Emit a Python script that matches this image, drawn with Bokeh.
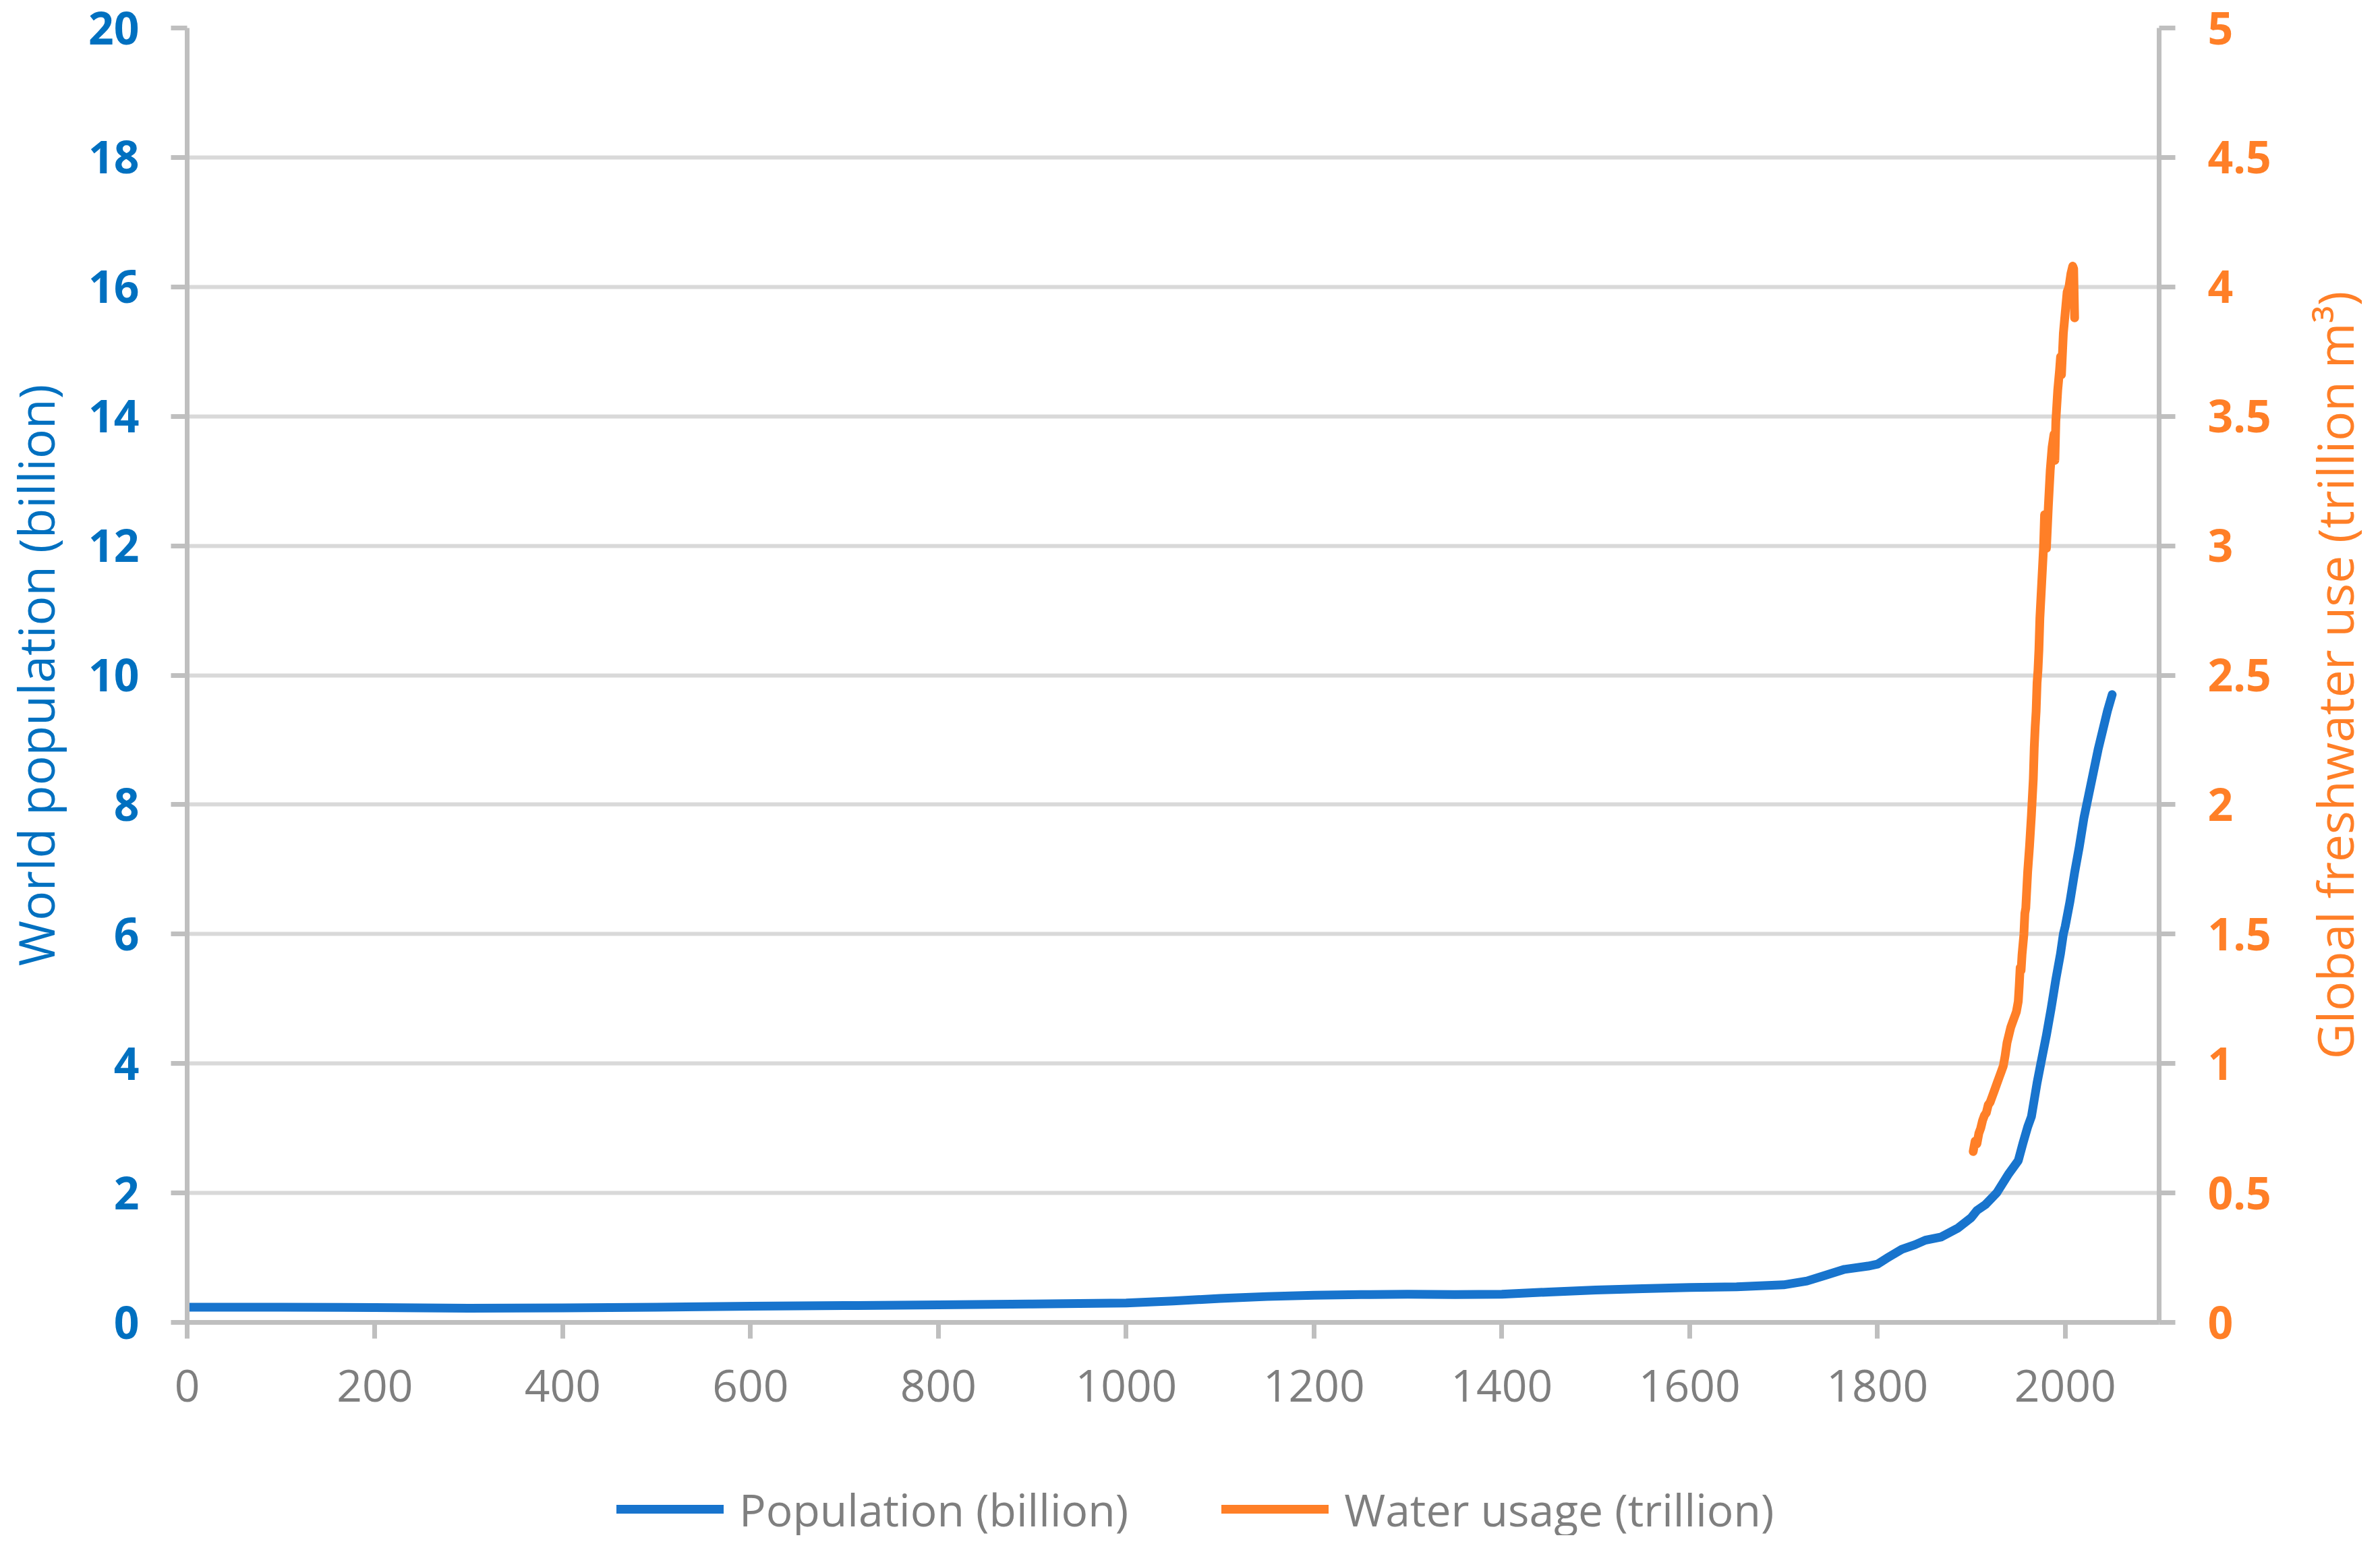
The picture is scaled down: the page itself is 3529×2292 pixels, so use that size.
import math
from bokeh.plotting import figure
from bokeh.layouts import column
from bokeh.models import (Range1d, LinearAxis, FixedTicker, CustomJSTickFormatter,
                          Legend, LegendItem, Label)
from bokeh.embed import file_html
from bokeh.resources import INLINE

# ---------------- data ----------------
pop_years = [0, 100, 200, 300, 400, 500, 600, 700, 800, 900, 1000, 1050, 1100, 1150,
             1200, 1250, 1300, 1350, 1400, 1450, 1500, 1550, 1600, 1650, 1700, 1725,
             1745, 1765, 1790, 1800, 1811, 1826, 1840, 1851, 1868, 1886, 1900, 1906,
             1915, 1927, 1940, 1950, 1955, 1960, 1964, 1970, 1974, 1980, 1985, 1990,
             1995, 1998, 2000, 2005, 2010, 2015, 2020, 2025, 2030, 2035, 2040, 2045, 2050]
pop_values = [0.235, 0.235, 0.23, 0.22, 0.225, 0.235, 0.25, 0.26, 0.27, 0.285, 0.30, 0.33,
              0.37, 0.40, 0.42, 0.43, 0.435, 0.43, 0.435, 0.47, 0.50, 0.52, 0.54, 0.55,
              0.58, 0.64, 0.73, 0.82, 0.87, 0.90, 1.00, 1.13, 1.20, 1.27, 1.32, 1.46,
              1.62, 1.73, 1.82, 2.00, 2.30, 2.50, 2.77, 3.02, 3.18, 3.70, 4.00, 4.44,
              4.85, 5.30, 5.70, 6.00, 6.12, 6.50, 6.95, 7.35, 7.80, 8.15, 8.50, 8.85,
              9.15, 9.45, 9.70]

water_years = [1902, 1904, 1906, 1908, 1910, 1912, 1914, 1916, 1918, 1920, 1922, 1924,
               1926, 1928, 1930, 1932, 1934, 1936, 1938, 1940, 1942, 1944, 1946, 1948,
               1950, 1951, 1952, 1953, 1954, 1956, 1957, 1958, 1960, 1962, 1964, 1966,
               1967, 1968, 1969, 1970, 1971, 1972, 1973, 1975, 1977, 1978, 1980, 1982,
               1984, 1986, 1988, 1989, 1990, 1992, 1994, 1995, 1996, 1998, 2000, 2002,
               2004, 2006, 2008, 2009, 2010]
water_values = [0.66, 0.70, 0.69, 0.73, 0.75, 0.78, 0.80, 0.81, 0.84, 0.85, 0.87, 0.89,
                0.91, 0.93, 0.95, 0.97, 0.99, 1.03, 1.08, 1.11, 1.14, 1.16, 1.18, 1.20,
                1.24, 1.30, 1.37, 1.36, 1.42, 1.50, 1.58, 1.60, 1.74, 1.84, 1.96, 2.10,
                2.22, 2.30, 2.36, 2.47, 2.52, 2.60, 2.72, 2.86, 3.00, 3.12, 2.99, 3.15,
                3.29, 3.38, 3.43, 3.33, 3.48, 3.60, 3.68, 3.73, 3.66, 3.82, 3.90, 3.98,
                4.00, 4.05, 4.08, 4.07, 3.88]

x_ticks = [0, 200, 400, 600, 800, 1000, 1200, 1400, 1600, 1800, 2000]
pop_ticks = [0, 2, 4, 6, 8, 10, 12, 14, 16, 18, 20]
water_ticks = [0, 0.5, 1, 1.5, 2, 2.5, 3, 3.5, 4, 4.5, 5]

series_names = ["Population (billion)", "Water usage (trillion)"]
left_title = "World population (billion)"
right_title = "Global freshwater use (trillion m³)"

# ---------------- style ----------------
FONT = "Open Sans"
BLUE_TEXT = "#0070C0"
BLUE_LINE = "#1874CD"
ORANGE = "#FF7F27"
GRAY_TEXT = "#7F7F7F"
AXIS_C = "#BFBFBF"
GRID_C = "#D9D9D9"
W = 3513
H_MAIN = 2160
H_LEG = 116

p = figure(width=W, height=H_MAIN, output_backend="svg", toolbar_location=None,
           x_range=Range1d(0, 2100), y_range=Range1d(0, 20),
           min_border_left=274, min_border_right=312, min_border_top=41,
           min_border_bottom=H_MAIN - 1960)
p.extra_y_ranges = {"water": Range1d(0, 5)}
p.outline_line_color = None
p.background_fill_color = "white"
p.border_fill_color = "white"


def style_axis(ax, ticks, color, bold, standoff):
    ax.ticker = FixedTicker(ticks=ticks)
    ax.axis_line_color = AXIS_C
    ax.axis_line_width = 7
    ax.major_tick_line_color = AXIS_C
    ax.major_tick_line_width = 7
    ax.major_tick_out = 24
    ax.major_tick_in = 0
    ax.minor_tick_line_color = None
    ax.major_label_text_font = FONT
    ax.major_label_text_font_size = "66px"
    ax.major_label_text_color = color
    ax.major_label_text_font_style = "bold" if bold else "normal"
    ax.major_label_standoff = standoff


style_axis(p.xaxis[0], x_ticks, GRAY_TEXT, False, 46)
style_axis(p.yaxis[0], pop_ticks, BLUE_TEXT, True, 47)
p.yaxis[0].axis_label = left_title
p.yaxis[0].axis_label_text_font = FONT
p.yaxis[0].axis_label_text_font_size = "73px"
p.yaxis[0].axis_label_text_font_style = "normal"
p.yaxis[0].axis_label_text_color = BLUE_TEXT
p.yaxis[0].axis_label_standoff = 26

right_axis = LinearAxis(y_range_name="water",
                        formatter=CustomJSTickFormatter(code="return tick.toString();"))
style_axis(right_axis, water_ticks, ORANGE, True, 48)
p.add_layout(right_axis, "right")

# right-hand title, reading bottom to top like the reference
p.add_layout(Label(x=2287, y=10, text=right_title, angle=math.pi / 2,
                   text_align="center", text_baseline="alphabetic",
                   text_font=FONT, text_font_size="73px", text_color=ORANGE), "right")

p.xgrid.visible = False
p.ygrid.ticker = FixedTicker(ticks=pop_ticks)
p.ygrid.grid_line_color = GRID_C
p.ygrid.grid_line_width = 6

p.line(pop_years, pop_values, line_color=BLUE_LINE, line_width=13,
       line_cap="round", line_join="round")
p.line(water_years, water_values, y_range_name="water", line_color=ORANGE,
       line_width=13, line_cap="round", line_join="round")

# ---------------- legend strip under the chart ----------------
# the same series are drawn here outside the visible range, only to feed the legend
pl = figure(width=W, height=H_LEG, output_backend="svg", toolbar_location=None,
            x_range=Range1d(0, 2100), y_range=Range1d(100, 101),
            x_axis_type=None, y_axis_type=None,
            min_border_left=0, min_border_right=0, min_border_top=0, min_border_bottom=0)
pl.outline_line_color = None
pl.grid.visible = False
pl.background_fill_color = "white"
pl.border_fill_color = "white"
k_pop = pl.line(pop_years, pop_values, line_color=BLUE_LINE, line_width=13,
                line_cap="round")
k_water = pl.line(water_years, water_values, line_color=ORANGE, line_width=13,
                  line_cap="round")

legend = Legend(items=[LegendItem(label=series_names[0], renderers=[k_pop]),
                       LegendItem(label=series_names[1], renderers=[k_water])],
                orientation="horizontal", location=(637, -6),
                glyph_width=159, glyph_height=90, label_height=90,
                label_standoff=23, spacing=138, padding=0, margin=0,
                border_line_color=None, background_fill_alpha=0,
                label_text_font=FONT, label_text_font_size="66px",
                label_text_color=GRAY_TEXT)
pl.add_layout(legend, "center")

layout = column(p, pl, spacing=0)
open("out.html", "w").write(file_html(layout, INLINE))
